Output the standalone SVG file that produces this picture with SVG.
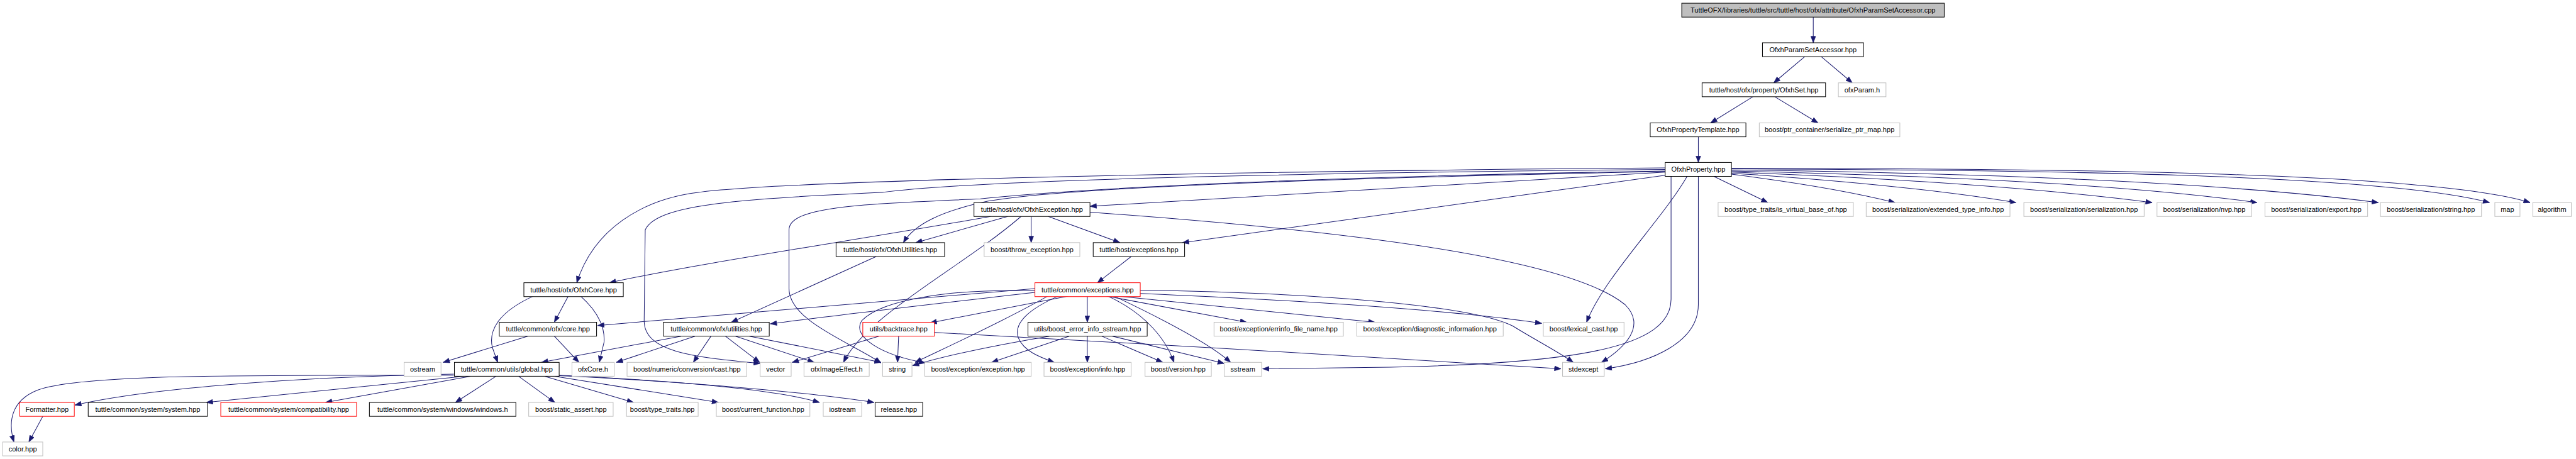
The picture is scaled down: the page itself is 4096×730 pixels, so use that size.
<svg xmlns="http://www.w3.org/2000/svg" width="4096" height="730" viewBox="0 0 4096 730">
<style>
.n rect{fill:#fff;stroke:#000;stroke-width:1.2}
.n.g rect{stroke:#bfbfbf}
.n.r rect{stroke:#ff0000}
.n.top rect{fill:#bfbfbf}
.n text{font-family:"Liberation Sans",Arial,sans-serif;font-size:13px;text-anchor:middle;fill:#000}
#edges path{fill:none;stroke:#191970;stroke-width:1.2;marker-end:url(#arr)}
</style>
<defs>
<marker id="arr" markerUnits="userSpaceOnUse" markerWidth="13" markerHeight="10" refX="12" refY="5" orient="auto" viewBox="0 0 12 10">
<path d="M0,0.5 L12,5 L0,9.5 z" fill="#191970" stroke="#191970" stroke-width="0.8"/>
</marker>
</defs>
<rect x="0" y="0" width="4096" height="730" fill="#fff"/>
<g transform="scale(0.85)">
<g id="edges">
<path d="M3392,31 L3392,80"/>
<path d="M3407,106 L3465,155"/>
<path d="M3376,106 L3318,155"/>
<path d="M3279,181 L3200,230"/>
<path d="M3320,181 L3401,230"/>
<path d="M3177,256 L3177,304"/>
<path d="M3206,330 L3307,379"/>
<path d="M3239,326 C3350,340 3460,358 3545,379"/>
<path d="M3239,324 C3420,336 3620,354 3771,379"/>
<path d="M3239,322 C3500,332 3800,350 4026,379"/>
<path d="M3239,320 C3600,328 3980,345 4222,379"/>
<path d="M3239,318 C3700,324 4150,340 4449,379"/>
<path d="M3239,316 C3800,318 4450,325 4657,379"/>
<path d="M3239,315 C3850,315 4550,322 4733,379"/>
<path d="M3156,330 C3110,410 3000,520 2968,603"/>
<path d="M3126,330 L3126,560 C3126,650 2950,680 2600,687 C2500,689 2420,690 2362,690"/>
<path d="M3177,330 L3177,570 C3177,640 3090,678 3003,690"/>
<path d="M3115,322 C2700,345 2300,370 2039,386"/>
<path d="M3115,328 C2800,372 2450,420 2212,454"/>
<path d="M3115,314 C2400,320 1500,335 1306,360 C1200,373 1110,430 1079,529"/>
<path d="M3115,317 C2300,325 1800,340 1650,360 C1400,372 1230,380 1207,430 L1205,600 C1205,660 1300,668 1422,680"/>
<path d="M3115,320 C2500,330 2050,350 1834,372 C1620,382 1476,385 1476,430 L1476,540 C1476,600 1590,640 1648,679"/>
<path d="M3115,321 C2500,333 2000,350 1850,376 C1760,395 1710,420 1690,454"/>
<path d="M1885,405 L1713,454"/>
<path d="M1853,405 C1600,450 1320,490 1140,529"/>
<path d="M1929,405 L1929,454"/>
<path d="M1961,405 L2095,454"/>
<path d="M2039,397 C2500,430 2930,480 3040,570 C3080,610 3040,650 2996,678"/>
<path d="M1910,405 C1800,500 1620,590 1578,678"/>
<path d="M1639,480 L1368,603"/>
<path d="M2116,480 L2053,529"/>
<path d="M1063,554 L1037,603"/>
<path d="M998,554 C930,585 914,620 921,650 L931,678"/>
<path d="M1086,554 C1115,580 1132,610 1130,640 L1121,678"/>
<path d="M987,629 L829,678"/>
<path d="M1037,629 L1083,678"/>
<path d="M1936,540 L1118,609"/>
<path d="M1936,547 C1780,565 1600,585 1441,606"/>
<path d="M1936,544 C1780,540 1650,560 1612,600 C1592,630 1650,665 1731,679"/>
<path d="M1998,554 L1740,604"/>
<path d="M2034,554 L2034,603"/>
<path d="M2070,554 L2332,603"/>
<path d="M2091,554 L2572,603"/>
<path d="M2133,549 C2500,565 2750,585 2884,605"/>
<path d="M2133,543 C2500,548 2760,575 2830,610 C2870,635 2915,658 2943,678"/>
<path d="M2072,554 C2130,580 2178,625 2196,678"/>
<path d="M2084,554 C2160,590 2260,640 2302,678"/>
<path d="M1980,554 C1925,578 1895,605 1905,632 C1915,657 1945,668 1972,678"/>
<path d="M1960,554 C1880,600 1770,650 1712,678"/>
<path d="M1274,629 L1013,678"/>
<path d="M1300,629 L1153,678"/>
<path d="M1330,629 L1297,678"/>
<path d="M1357,629 L1421,678"/>
<path d="M1376,629 L1523,678"/>
<path d="M1402,629 L1648,678"/>
<path d="M1644,629 L1482,678"/>
<path d="M1681,629 L1679,678"/>
<path d="M1748,622 C2100,640 2600,670 2920,690"/>
<path d="M2034,629 L2034,678"/>
<path d="M2061,629 L2175,678"/>
<path d="M2081,629 L2290,680"/>
<path d="M2000,629 L1855,678"/>
<path d="M1963,629 C1850,648 1760,668 1707,684"/>
<path d="M849,702 C450,702 150,700 70,730 C20,750 15,790 26,827"/>
<path d="M849,700 C600,704 300,722 140,758"/>
<path d="M868,704 L386,753"/>
<path d="M880,704 L609,753"/>
<path d="M928,704 L852,753"/>
<path d="M970,704 L1038,753"/>
<path d="M1019,704 L1185,753"/>
<path d="M1038,704 L1344,753"/>
<path d="M1046,702 C1250,712 1450,728 1533,753"/>
<path d="M1046,703 C1300,715 1520,735 1635,753"/>
<path d="M80,779 L54,827"/>
</g>
<g id="n0" class="n top"><rect x="3146" y="6" width="491" height="26"/><text x="3391.5" y="23.5">TuttleOFX/libraries/tuttle/src/tuttle/host/ofx/attribute/OfxhParamSetAccessor.cpp</text></g>
<g id="n1" class="n"><rect x="3297" y="80" width="189" height="26"/><text x="3391.5" y="97.5">OfxhParamSetAccessor.hpp</text></g>
<g id="n2" class="n"><rect x="3184" y="155" width="231" height="26"/><text x="3299.5" y="172.5">tuttle/host/ofx/property/OfxhSet.hpp</text></g>
<g id="n3" class="n g"><rect x="3439" y="155" width="89" height="26"/><text x="3483.5" y="172.5">ofxParam.h</text></g>
<g id="n4" class="n"><rect x="3087" y="230" width="179" height="26"/><text x="3176.5" y="247.5">OfxhPropertyTemplate.hpp</text></g>
<g id="n5" class="n g"><rect x="3291" y="230" width="263" height="26"/><text x="3422.5" y="247.5">boost/ptr_container/serialize_ptr_map.hpp</text></g>
<g id="n6" class="n"><rect x="3115" y="304" width="124" height="26"/><text x="3177" y="321.5">OfxhProperty.hpp</text></g>
<g id="n7" class="n"><rect x="1822" y="379" width="217" height="26"/><text x="1930.5" y="396.5">tuttle/host/ofx/OfxhException.hpp</text></g>
<g id="n8" class="n g"><rect x="3214" y="379" width="253" height="26"/><text x="3340.5" y="396.5">boost/type_traits/is_virtual_base_of.hpp</text></g>
<g id="n9" class="n g"><rect x="3491" y="379" width="269" height="26"/><text x="3625.5" y="396.5">boost/serialization/extended_type_info.hpp</text></g>
<g id="n10" class="n g"><rect x="3786" y="379" width="225" height="26"/><text x="3898.5" y="396.5">boost/serialization/serialization.hpp</text></g>
<g id="n11" class="n g"><rect x="4035" y="379" width="177" height="26"/><text x="4123.5" y="396.5">boost/serialization/nvp.hpp</text></g>
<g id="n12" class="n g"><rect x="4237" y="379" width="192" height="26"/><text x="4333" y="396.5">boost/serialization/export.hpp</text></g>
<g id="n13" class="n g"><rect x="4453" y="379" width="189" height="26"/><text x="4547.5" y="396.5">boost/serialization/string.hpp</text></g>
<g id="n14" class="n g"><rect x="4667" y="379" width="47" height="26"/><text x="4690.5" y="396.5">map</text></g>
<g id="n15" class="n g"><rect x="4738" y="379" width="72" height="26"/><text x="4774" y="396.5">algorithm</text></g>
<g id="n16" class="n"><rect x="1564" y="454" width="203" height="26"/><text x="1665.5" y="471.5">tuttle/host/ofx/OfxhUtilities.hpp</text></g>
<g id="n17" class="n g"><rect x="1841" y="454" width="179" height="26"/><text x="1930.5" y="471.5">boost/throw_exception.hpp</text></g>
<g id="n18" class="n"><rect x="2045" y="454" width="171" height="26"/><text x="2130.5" y="471.5">tuttle/host/exceptions.hpp</text></g>
<g id="n19" class="n"><rect x="980" y="529" width="186" height="26"/><text x="1073" y="546.5">tuttle/host/ofx/OfxhCore.hpp</text></g>
<g id="n20" class="n r"><rect x="1936" y="529" width="197" height="26"/><text x="2034.5" y="546.5">tuttle/common/exceptions.hpp</text></g>
<g id="n21" class="n"><rect x="934" y="603" width="182" height="26"/><text x="1025" y="620.5">tuttle/common/ofx/core.hpp</text></g>
<g id="n22" class="n"><rect x="1241" y="603" width="198" height="26"/><text x="1340" y="620.5">tuttle/common/ofx/utilities.hpp</text></g>
<g id="n23" class="n r"><rect x="1614" y="603" width="134" height="26"/><text x="1681" y="620.5">utils/backtrace.hpp</text></g>
<g id="n24" class="n"><rect x="1923" y="603" width="223" height="26"/><text x="2034.5" y="620.5">utils/boost_error_info_sstream.hpp</text></g>
<g id="n25" class="n g"><rect x="2271" y="603" width="242" height="26"/><text x="2392" y="620.5">boost/exception/errinfo_file_name.hpp</text></g>
<g id="n26" class="n g"><rect x="2538" y="603" width="274" height="26"/><text x="2675" y="620.5">boost/exception/diagnostic_information.hpp</text></g>
<g id="n27" class="n g"><rect x="2887" y="603" width="151" height="26"/><text x="2962.5" y="620.5">boost/lexical_cast.hpp</text></g>
<g id="n28" class="n g"><rect x="756" y="678" width="69" height="26"/><text x="790.5" y="695.5">ostream</text></g>
<g id="n29" class="n"><rect x="850" y="678" width="196" height="26"/><text x="948" y="695.5">tuttle/common/utils/global.hpp</text></g>
<g id="n30" class="n g"><rect x="1070" y="678" width="79" height="26"/><text x="1109.5" y="695.5">ofxCore.h</text></g>
<g id="n31" class="n g"><rect x="1173" y="678" width="224" height="26"/><text x="1285" y="695.5">boost/numeric/conversion/cast.hpp</text></g>
<g id="n32" class="n g"><rect x="1422" y="678" width="58" height="26"/><text x="1451" y="695.5">vector</text></g>
<g id="n33" class="n g"><rect x="1504" y="678" width="122" height="26"/><text x="1565" y="695.5">ofxImageEffect.h</text></g>
<g id="n34" class="n g"><rect x="1651" y="678" width="55" height="26"/><text x="1678.5" y="695.5">string</text></g>
<g id="n35" class="n g"><rect x="1730" y="678" width="199" height="26"/><text x="1829.5" y="695.5">boost/exception/exception.hpp</text></g>
<g id="n36" class="n g"><rect x="1953" y="678" width="163" height="26"/><text x="2034.5" y="695.5">boost/exception/info.hpp</text></g>
<g id="n37" class="n g"><rect x="2142" y="678" width="124" height="26"/><text x="2204" y="695.5">boost/version.hpp</text></g>
<g id="n38" class="n g"><rect x="2290" y="678" width="70" height="26"/><text x="2325" y="695.5">sstream</text></g>
<g id="n39" class="n g"><rect x="2923" y="678" width="78" height="26"/><text x="2962" y="695.5">stdexcept</text></g>
<g id="n40" class="n r"><rect x="37" y="753" width="102" height="26"/><text x="88" y="770.5">Formatter.hpp</text></g>
<g id="n41" class="n"><rect x="165" y="753" width="223" height="26"/><text x="276.5" y="770.5">tuttle/common/system/system.hpp</text></g>
<g id="n42" class="n r"><rect x="413" y="753" width="254" height="26"/><text x="540" y="770.5">tuttle/common/system/compatibility.hpp</text></g>
<g id="n43" class="n"><rect x="691" y="753" width="274" height="26"/><text x="828" y="770.5">tuttle/common/system/windows/windows.h</text></g>
<g id="n44" class="n g"><rect x="989" y="753" width="158" height="26"/><text x="1068" y="770.5">boost/static_assert.hpp</text></g>
<g id="n45" class="n g"><rect x="1172" y="753" width="134" height="26"/><text x="1239" y="770.5">boost/type_traits.hpp</text></g>
<g id="n46" class="n g"><rect x="1340" y="753" width="175" height="26"/><text x="1427.5" y="770.5">boost/current_function.hpp</text></g>
<g id="n47" class="n g"><rect x="1540" y="753" width="72" height="26"/><text x="1576" y="770.5">iostream</text></g>
<g id="n48" class="n"><rect x="1637" y="753" width="89" height="26"/><text x="1681.5" y="770.5">release.hpp</text></g>
<g id="n49" class="n g"><rect x="5" y="827" width="75" height="26"/><text x="42.5" y="844.5">color.hpp</text></g>
</g>
</svg>
